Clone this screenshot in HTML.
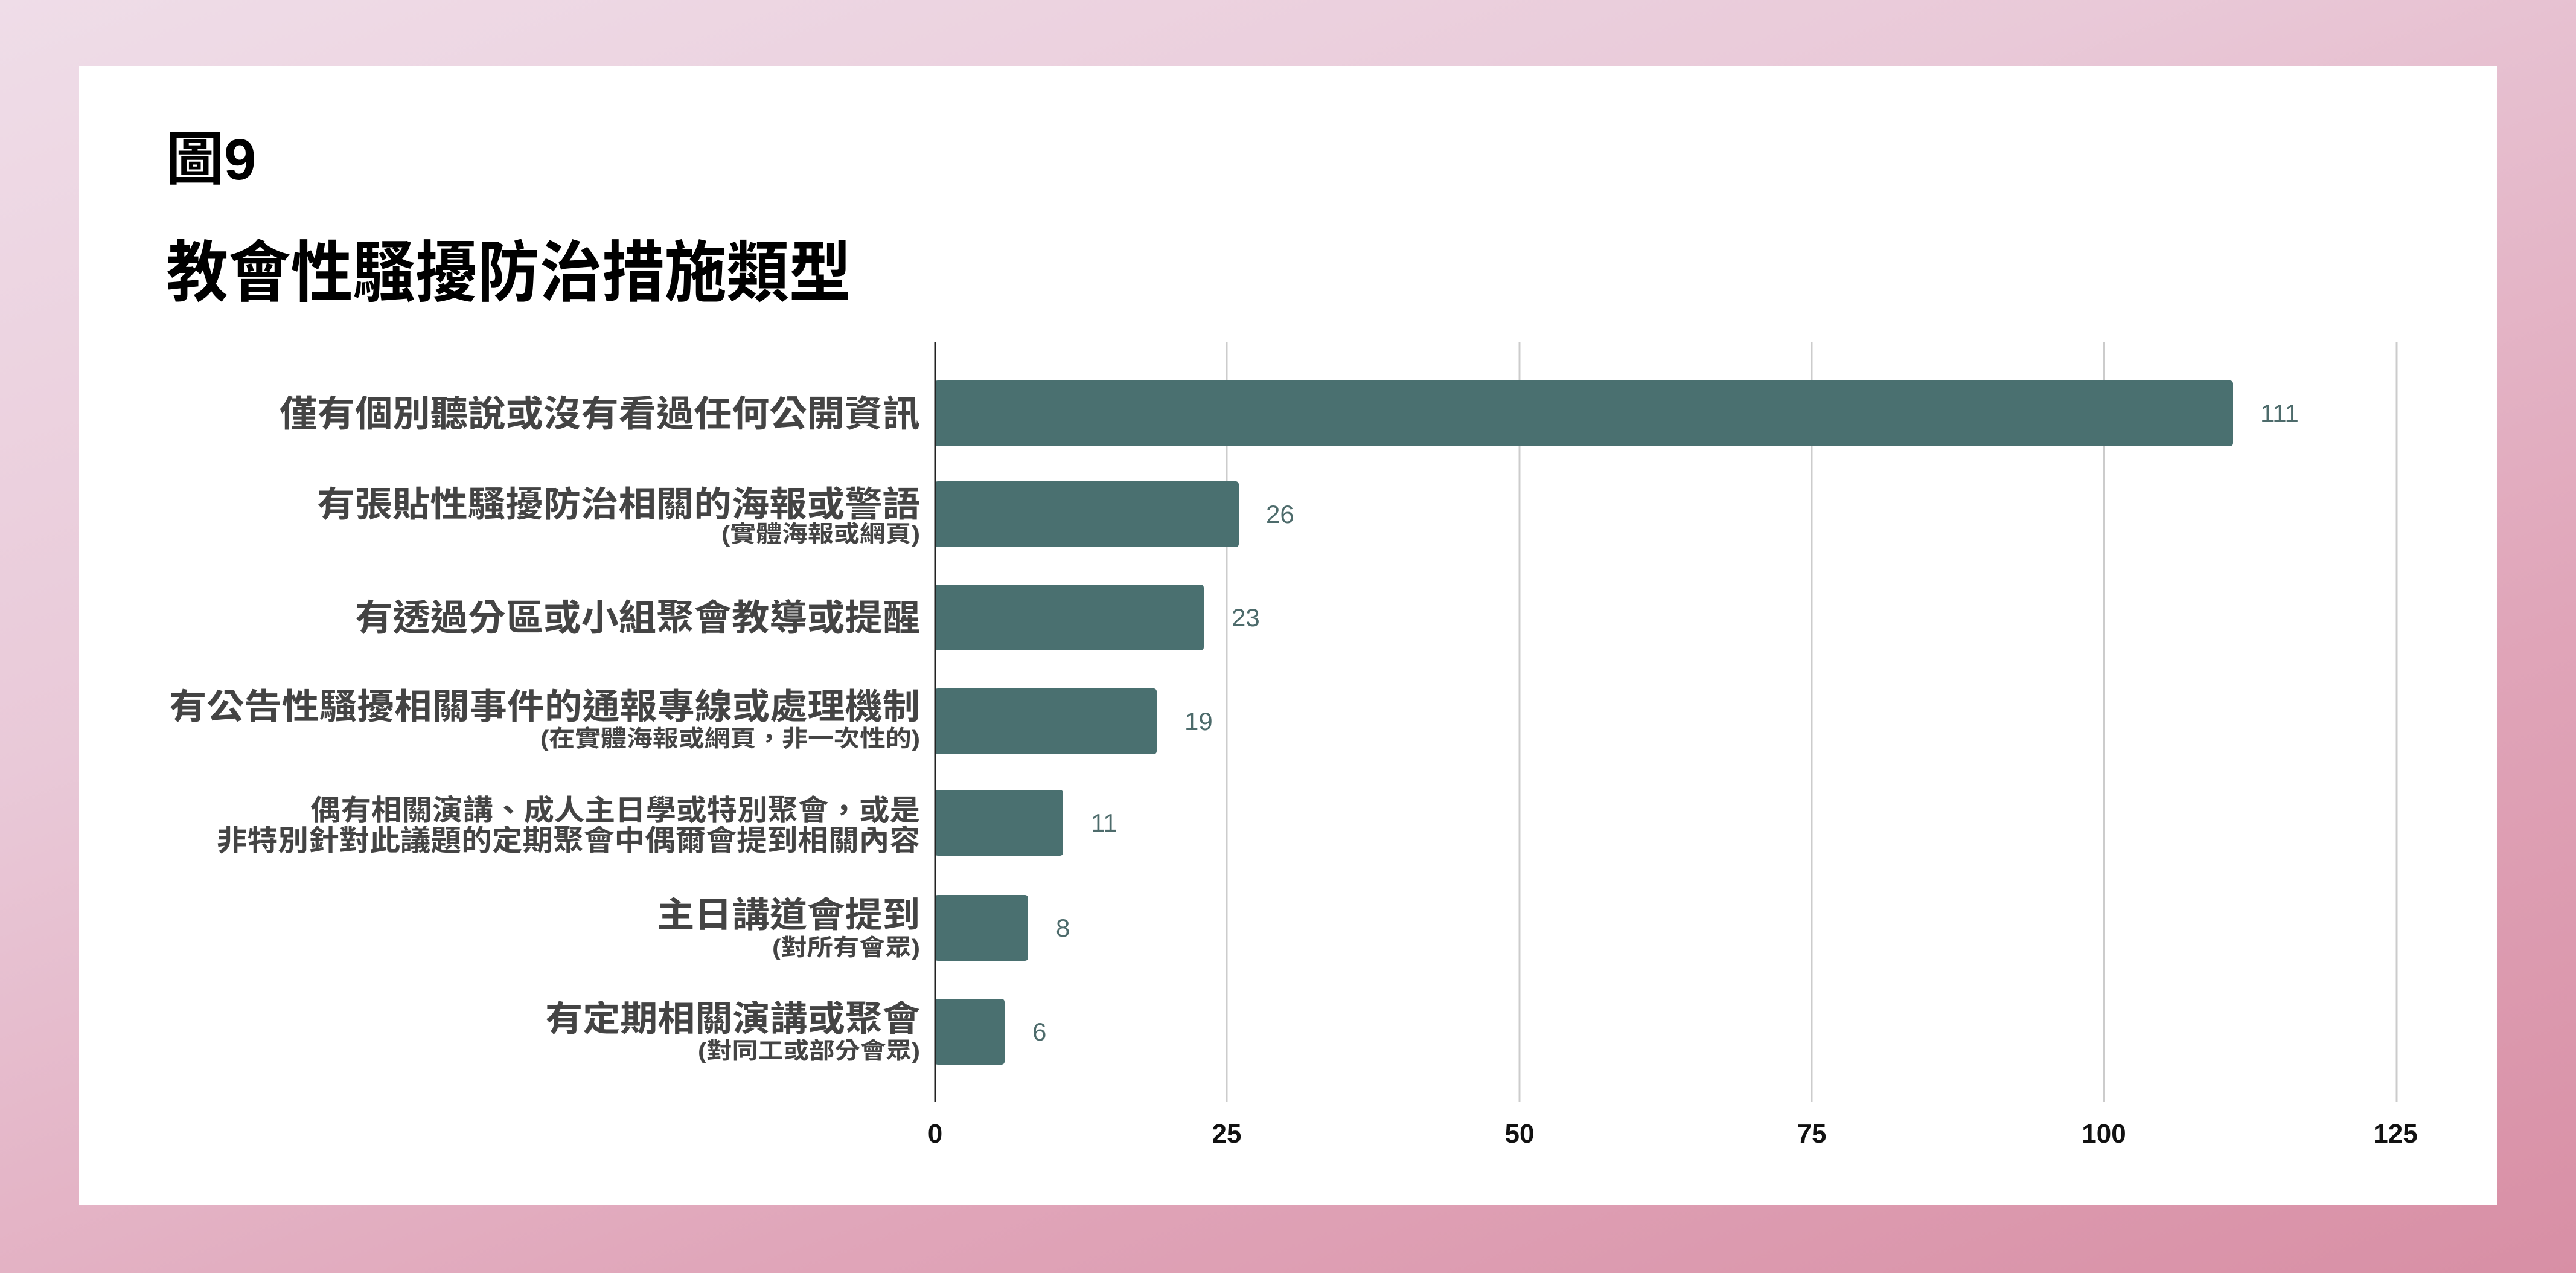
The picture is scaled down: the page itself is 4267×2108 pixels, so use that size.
<!DOCTYPE html>
<html><head><meta charset="utf-8"><style>
html,body{margin:0;padding:0}
body{width:4267px;height:2108px;overflow:hidden;background:linear-gradient(160deg,#efdde8 0%,#e9c9d8 35%,#e0a5b9 70%,#d88fa5 100%)}
svg{position:absolute;left:0;top:0}
</style></head><body>
<svg width="4267" height="2108" viewBox="0 0 4267 2108" xmlns="http://www.w3.org/2000/svg">
<rect x="131" y="109" width="4005" height="1886" fill="#fff"/>
<g font-family="Liberation Sans, Noto Sans CJK TC, sans-serif" font-weight="bold" fill="#000">
<text x="275" y="297" font-size="96">圖9</text>
<text x="275" y="490" font-size="110" textLength="1135" lengthAdjust="spacingAndGlyphs">教會性騷擾防治措施類型</text>
</g>
<g stroke="#cccccc" stroke-width="3">
<line x1="2032" y1="566" x2="2032" y2="1825"/>
<line x1="2517" y1="566" x2="2517" y2="1825"/>
<line x1="3001" y1="566" x2="3001" y2="1825"/>
<line x1="3485" y1="566" x2="3485" y2="1825"/>
<line x1="3970" y1="566" x2="3970" y2="1825"/>
</g>
<g fill="#4a7070">
<rect x="1548" y="630" width="2151" height="109" rx="5"/>
<rect x="1548" y="797" width="504" height="109" rx="5"/>
<rect x="1548" y="968" width="446" height="109" rx="5"/>
<rect x="1548" y="1140" width="368" height="109" rx="5"/>
<rect x="1548" y="1308" width="213" height="109" rx="5"/>
<rect x="1548" y="1482" width="155" height="109" rx="5"/>
<rect x="1548" y="1654" width="116" height="109" rx="5"/>
</g>
<line x1="1549" y1="566" x2="1549" y2="1825" stroke="#222" stroke-width="3"/>
<g font-family="Liberation Sans, sans-serif" font-size="42" fill="#4d6b6b">
<text x="3744" y="699">111</text>
<text x="2097" y="866">26</text>
<text x="2040" y="1037">23</text>
<text x="1962" y="1209">19</text>
<text x="1807" y="1377">11</text>
<text x="1749" y="1551">8</text>
<text x="1710" y="1723">6</text>
</g>
<g font-family="Liberation Sans, Noto Sans CJK TC, sans-serif" font-weight="bold" fill="#444" text-anchor="end" lengthAdjust="spacingAndGlyphs">
<text x="1524" y="706" font-size="60" textLength="1061" lengthAdjust="spacingAndGlyphs">僅有個別聽說或沒有看過任何公開資訊</text>
<text x="1524" y="855" font-size="58" textLength="999" lengthAdjust="spacingAndGlyphs">有張貼性騷擾防治相關的海報或警語</text>
<text x="1524" y="897" font-size="38" textLength="329" lengthAdjust="spacingAndGlyphs">(實體海報或網頁)</text>
<text x="1524" y="1044" font-size="60" textLength="936" lengthAdjust="spacingAndGlyphs">有透過分區或小組聚會教導或提醒</text>
<text x="1524" y="1190" font-size="58" textLength="1244" lengthAdjust="spacingAndGlyphs">有公告性騷擾相關事件的通報專線或處理機制</text>
<text x="1524" y="1236" font-size="38" textLength="629" lengthAdjust="spacingAndGlyphs">(在實體海報或網頁，非一次性的)</text>
<text x="1524" y="1358" font-size="48" textLength="1010" lengthAdjust="spacingAndGlyphs">偶有相關演講、成人主日學或特別聚會，或是</text>
<text x="1524" y="1408" font-size="48" textLength="1165" lengthAdjust="spacingAndGlyphs">非特別針對此議題的定期聚會中偶爾會提到相關內容</text>
<text x="1524" y="1535" font-size="58" textLength="436" lengthAdjust="spacingAndGlyphs">主日講道會提到</text>
<text x="1524" y="1582" font-size="38" textLength="245" lengthAdjust="spacingAndGlyphs">(對所有會眾)</text>
<text x="1524" y="1707" font-size="58" textLength="621" lengthAdjust="spacingAndGlyphs">有定期相關演講或聚會</text>
<text x="1524" y="1753" font-size="38" textLength="368" lengthAdjust="spacingAndGlyphs">(對同工或部分會眾)</text>
</g>
<g font-family="Liberation Sans, sans-serif" font-weight="bold" font-size="44" fill="#111" text-anchor="middle">
<text x="1549" y="1892">0</text>
<text x="2032" y="1892">25</text>
<text x="2517" y="1892">50</text>
<text x="3001" y="1892">75</text>
<text x="3485" y="1892">100</text>
<text x="3968" y="1892">125</text>
</g>
</svg>
</body></html>
